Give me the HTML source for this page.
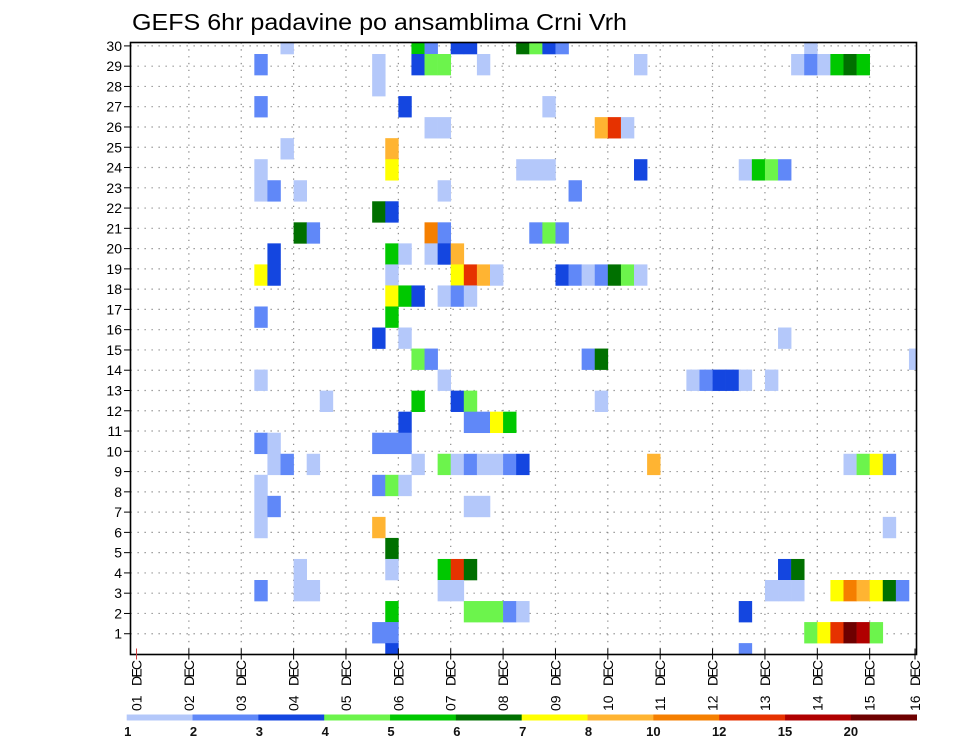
<!DOCTYPE html>
<html><head><meta charset="utf-8"><style>
html,body{margin:0;padding:0;background:#fff;}
svg{display:block;font-family:"Liberation Sans",sans-serif;}
</style></head><body>
<svg id="chart" width="960" height="742" viewBox="0 0 960 742">
<text x="132" y="30" font-size="23" textLength="495" lengthAdjust="spacingAndGlyphs" fill="#000">GEFS 6hr padavine po ansamblima Crni Vrh</text>
<g id="grid"></g>
<g id="cells"></g>
<rect x="130.5" y="42.5" width="786" height="612" fill="none" stroke="#000" stroke-width="1.6"/>
<g id="yaxis"></g>
<g id="xaxis"></g>
<g id="cbar"></g>
</svg>
<script>
// ---- data ----
const dayNums = ["01","02","03","04","05","06","07","08","09","10","11","12","13","14","15","16"];
const monthLabel = "DEC";
const memberTicks = [1,2,3,4,5,6,7,8,9,10,11,12,13,14,15,16,17,18,19,20,21,22,23,24,25,26,27,28,29,30];
const levelBounds = [1,2,3,4,5,6,7,8,10,12,15,20];
const levelColors = ["#b4c8fa","#6088f8","#1446e0","#6cf44c","#00c800","#007000","#ffff00","#ffb432","#f57f00","#e63200","#b00000","#6e0000"];
// cells: ensemble band, 6h step index, precipitation (mm)
const cellMember = [
30,30,30,30,30,30,30,30,30,30,
29,29,29,29,29,29,29,29,29,29,29,29,29,
28,
27,27,27,
26,26,26,26,26,
25,25,
24,24,24,24,24,24,24,24,24,24,
23,23,23,23,23,
22,22,
21,21,21,21,21,21,21,
20,20,20,20,20,20,
19,19,19,19,19,19,19,19,19,19,19,19,19,19,
18,18,18,18,18,18,
17,17,
16,16,16,
15,15,15,15,15,
14,14,14,14,14,14,14,14,
13,13,13,13,13,
12,12,12,12,12,
11,11,11,11,11,
10,10,10,10,10,10,10,10,10,10,10,10,10,10,10,10,
9,9,9,9,
8,8,8,8,
7,7,7,
6,
5,5,5,5,5,5,5,
4,4,4,4,4,4,4,4,4,4,4,4,4,4,
3,3,3,3,3,3,3,
2,2,2,2,2,2,2,2,
1,1];
const cellStep = [
11,21,22,24,25,29,30,31,32,51,
9,18,21,22,23,26,38,50,51,52,53,54,55,
18,
9,20,31,
22,23,35,36,37,
11,19,
9,19,29,30,31,38,46,47,48,49,
9,10,12,23,33,
18,19,
12,13,22,23,30,31,32,
10,19,20,22,23,24,
9,10,19,24,25,26,27,32,33,34,35,36,37,38,
19,20,21,23,24,25,
9,19,
18,20,49,
21,22,34,35,59,
9,23,42,43,44,45,46,48,
14,21,24,25,35,
20,25,26,27,28,
9,10,18,19,20,
10,11,13,21,23,24,25,26,27,28,29,39,54,55,56,57,
9,18,19,20,
9,10,25,26,
9,18,57,
19,
12,19,23,24,25,49,50,
9,12,13,23,24,48,49,50,53,54,55,56,57,58,
19,25,26,27,28,29,46,
18,19,51,52,53,54,55,56,
19,46];
const cellValue = [
1.5,5.5,2.5,3.5,3.5,6.5,4.5,3.5,2.5,1.5,
2.5,1.5,3.5,4.5,4.5,1.5,1.5,1.5,2.5,1.5,5.5,6.5,5.5,
1.5,
2.5,3.5,1.5,
1.5,1.5,9,13,1.5,
1.5,9,
1.5,7.5,1.5,1.5,1.5,3.5,1.5,5.5,4.5,2.5,
1.5,2.5,1.5,1.5,2.5,
6.5,3.5,
6.5,2.5,11,2.5,2.5,4.5,2.5,
3.5,5.5,1.5,1.5,3.5,9,
7.5,3.5,1.5,7.5,13,9,1.5,3.5,2.5,1.5,2.5,6.5,4.5,1.5,
7.5,5.5,3.5,1.5,2.5,1.5,
2.5,5.5,
3.5,1.5,1.5,
4.5,2.5,2.5,6.5,1.5,
1.5,1.5,1.5,2.5,3.5,3.5,1.5,1.5,
1.5,5.5,3.5,4.5,1.5,
3.5,2.5,2.5,7.5,5.5,
2.5,1.5,2.5,2.5,2.5,
1.5,2.5,1.5,1.5,4.5,1.5,2.5,1.5,1.5,2.5,3.5,9,1.5,4.5,7.5,2.5,
1.5,2.5,4.5,1.5,
1.5,2.5,1.5,1.5,
1.5,9,1.5,
6.5,
1.5,1.5,5.5,13,6.5,3.5,6.5,
2.5,1.5,1.5,1.5,1.5,1.5,1.5,1.5,7.5,11,9,7.5,6.5,2.5,
5.5,4.5,4.5,4.5,2.5,1.5,3.5,
2.5,2.5,4.5,7.5,13,22,17,4.5,
3.5,2.5];

// ---- geometry ----
const NS = "http://www.w3.org/2000/svg";
const FL = 130.5, FR = 916.5, FT = 42.5, FB = 654.5;
const X0 = 136.5, DAY = 52.37, STEP = DAY / 4;
const xDay = d => X0 + d * DAY;
const xStep = k => X0 + k * STEP;
const yLabel = m => 654 - m * 20.27;
const bandTop = m => 54 + (29 - m) * 21.04;
const BAND = 21.04;
function colorFor(v){ let i=0; for(let j=0;j<levelBounds.length;j++){ if(v>=levelBounds[j]) i=j; } return levelColors[i]; }
function mk(tag, attrs, parent){ const e=document.createElementNS(NS,tag); for(const k in attrs) e.setAttribute(k,attrs[k]); parent.appendChild(e); return e; }

const grid = document.getElementById('grid');
memberTicks.forEach(m=>{
  const l = mk('line',{x1:FL,x2:FR,y1:yLabel(m),y2:yLabel(m),stroke:'#8a8a8a','stroke-width':1.2,'stroke-dasharray':'1.3 5.7'},grid);
  
  
});
dayNums.forEach((d,i)=>{
  if(i===0||i===15) return;
  const l = mk('line',{x1:xDay(i),x2:xDay(i),y1:FT,y2:FB,stroke:'#8a8a8a','stroke-width':1.2,'stroke-dasharray':'1.3 5.5'},grid);
  
  
});

const cells = document.getElementById('cells');
for(let i=0;i<cellMember.length;i++){
  const m=cellMember[i], k=cellStep[i];
  let x=xStep(k), w=STEP, y=bandTop(m), h=BAND;
  if(y<FT){ h-= (FT-y); y=FT; }
  if(y+h>FB){ h=FB-y; }
  if(x+w>FR){ w=FR-x; }
  const r = mk('rect',{x:x.toFixed(2),y:y.toFixed(2),width:(w+0.3).toFixed(2),height:(h+0.3).toFixed(2),fill:colorFor(cellValue[i])},cells);
  
  
}

const ya = document.getElementById('yaxis');
memberTicks.forEach(m=>{
  const t = mk('line',{x1:124,x2:FL,y1:yLabel(m),y2:yLabel(m),stroke:'#000','stroke-width':1},ya);
  
  
  const tx = mk('text',{x:122,y:yLabel(m)+5,'font-size':14,'text-anchor':'end',fill:'#000'},ya);
  tx.textContent = m;
  
  
});

const xa = document.getElementById('xaxis');
dayNums.forEach((d,i)=>{
  const x = i===15 ? 915 : xDay(i);
  const t = mk('line',{x1:x,x2:x,y1:FB-6,y2:FB+5,stroke:i===0?'#d04040':'#000','stroke-width':1},xa);
  
  
  const tx = mk('text',{x:0,y:0,'font-size':14,fill:'#000',transform:`translate(${x+5},711) rotate(-90)`},xa);
  tx.textContent = d;
  
  
  const tm = mk('text',{x:0,y:0,'font-size':14,fill:'#000',textLength:26,transform:`translate(${x+5},686) rotate(-90)`},xa);
  tm.textContent = monthLabel;
  
  
});

const cb = document.getElementById('cbar');
const CB0 = 126.7, CBW = 790/12;
levelColors.forEach((c,i)=>{
  const r = mk('rect',{x:CB0+i*CBW,y:714.5,width:CBW+0.3,height:6,fill:c},cb);
  
  
  const tx = mk('text',{x:CB0+i*CBW+(i>=8?0:1),y:736,'font-size':13,'font-weight':'bold','text-anchor':'middle',fill:'#111'},cb);
  tx.textContent = levelBounds[i];
  
  
});
</script>
</body></html>
